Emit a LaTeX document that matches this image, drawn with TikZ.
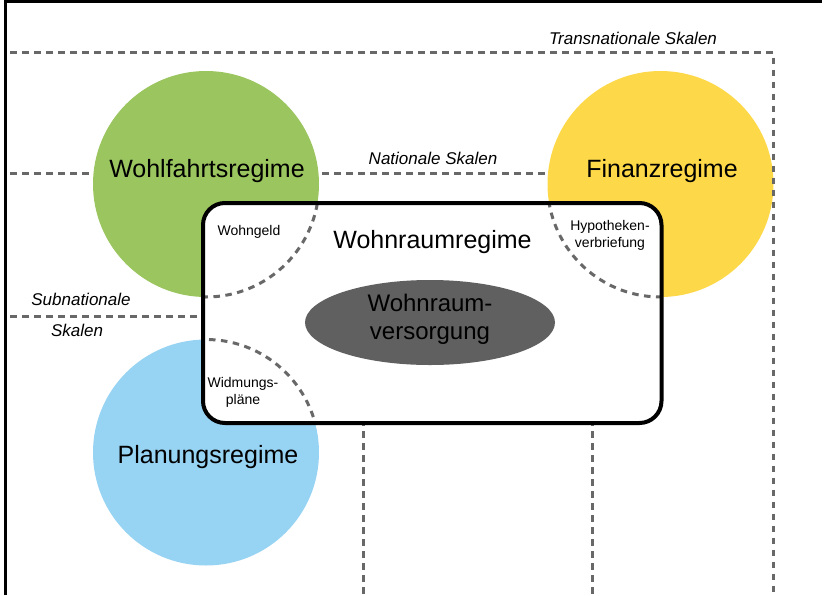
\documentclass[tikz,border=0pt]{standalone}
\usepackage{fontspec}
\setmainfont{Liberation Sans}
\usetikzlibrary{shapes.geometric}
\definecolor{wfgreen}{RGB}{155,197,94}
\definecolor{fiyellow}{RGB}{253,216,72}
\definecolor{plblue}{RGB}{151,211,242}
\definecolor{ellgray}{RGB}{96,96,96}
\definecolor{dashgray}{RGB}{104,104,104}
\tikzset{
  scaleline/.style={draw=dashgray, line width=3pt, dash pattern=on 6.5pt off 5.5pt},
  regime/.style={circle, inner sep=0pt, minimum size=226pt},
  bigtxt/.style={font=\fontsize{25}{28}\selectfont, text=black, inner sep=0pt},
  elltxt/.style={font=\fontsize{24}{28}\selectfont, text=black, inner sep=0pt, align=center},
  smalltxt/.style={font=\fontsize{14}{17}\selectfont, text=black, inner sep=0pt, align=center},
  scaletxt/.style={font=\fontsize{17}{20}\selectfont\itshape, text=black, inner sep=0pt},
}
\begin{document}
\begin{tikzpicture}[x=1pt,y=-1pt]
\useasboundingbox (0,0) rectangle (825,595);
% frame
\coordinate (fbl) at (5.3,595);
\coordinate (ftl) at (5.3,1.5);
\coordinate (ftr) at (822,1.5);
\draw[line width=3pt, black] (fbl) -- (ftl) -- (ftr);
% scale lines (behind circles)
\coordinate (n1) at (10,173);
\coordinate (n2) at (592,173);
\coordinate (n3) at (592,595);
\draw[scaleline] (n1) -- (n2) -- (n3);
\coordinate (s1) at (10,316);
\coordinate (s2) at (363,316);
\coordinate (s3) at (363,595);
\draw[scaleline] (s1) -- (s2) -- (s3);
% circles
\node[regime, fill=wfgreen] (wf) at (206,184) {};
\node[regime, fill=fiyellow] (fi) at (660.5,184) {};
\node[regime, fill=plblue] (pl) at (206,452.5) {};
% transnational line
\coordinate (t1) at (10,52.5);
\coordinate (t2) at (773,52.5);
\coordinate (t3) at (773,595);
\draw[scaleline] (t1) -- (t2) -- (t3);
% housing regime box
\node[fill=white, rounded corners=22pt, minimum width=458.5pt, minimum height=220pt, outer sep=0pt, inner sep=0pt] (wr) at (432.25,313) {};
\begin{scope}
\clip[rounded corners=22pt] (wr.north west) rectangle (wr.south east);
\draw[scaleline] (wf.center) circle[radius=113pt];
\draw[scaleline] (fi.center) circle[radius=113pt];
\draw[scaleline] (pl.center) circle[radius=113pt];
\end{scope}
\draw[line width=4pt, black, rounded corners=22pt] (wr.north west) rectangle (wr.south east);
% core ellipse
\node[ellipse, fill=ellgray, minimum width=250pt, minimum height=85pt, inner sep=0pt] (ver) at (430,322.5) {};
\node[elltxt] (vert) at (430,319) {Wohnraum-\\versorgung};
% labels
\node[bigtxt] (wft) at (207,171) {Wohlfahrtsregime};
\node[bigtxt] (fit) at (662,171) {Finanzregime};
\node[bigtxt] (plt) at (208,457) {Planungsregime};
\node[bigtxt] (wrt) at (432.5,242) {Wohnraumregime};
\node[smalltxt] (wg) at (249,232) {Wohngeld};
\node[smalltxt] (hy) at (610,235) {Hypotheken-\\verbriefung};
\node[smalltxt] (wi) at (243,392) {Widmungs-\\pläne};
\node[scaletxt] (tr) at (633,38) {Transnationale Skalen};
\node[scaletxt] (na) at (433,158) {Nationale Skalen};
\node[scaletxt] (sub) at (81,299) {Subnationale};
\node[scaletxt] (sk) at (77,330) {Skalen};
\end{tikzpicture}
\end{document}
